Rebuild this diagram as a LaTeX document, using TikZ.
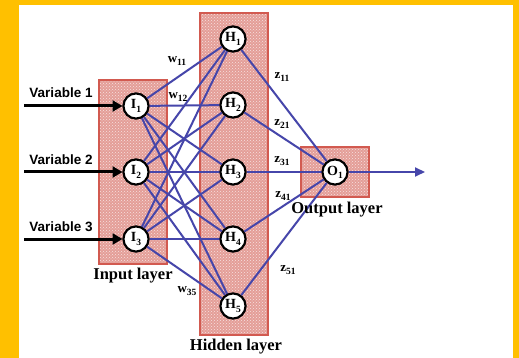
\documentclass[tikz,border=0pt]{standalone}
\usepackage{fontspec}
\setmainfont{Liberation Serif}
\setsansfont{Liberation Sans}
\usetikzlibrary{arrows.meta,patterns}
\definecolor{frame}{RGB}{255,192,0}
\definecolor{boxfill}{RGB}{228,158,152}
\definecolor{boxline}{RGB}{210,90,80}
\definecolor{netblue}{RGB}{70,70,170}
\newcommand\sbs[1]{\raisebox{-0.5ex}{\fontsize{9.5}{9.5}\selectfont #1}}
\tikzset{
  layerbox/.style={draw=boxline,line width=1.5pt,fill=boxfill},
  layerdots/.style={pattern=crosshatch dots,pattern color=white!70!boxfill},
  neuron/.style={circle,draw=black,line width=2pt,fill=white,minimum size=25pt,inner sep=0pt,font=\fontsize{14}{14}\selectfont\bfseries},
  link/.style={draw=netblue,line width=2pt},
  varlabel/.style={font=\sffamily\bfseries\fontsize{13.5}{14}\selectfont},
  laylabel/.style={font=\bfseries\fontsize{16.5}{17}\selectfont},
  wlabel/.style={font=\bfseries\fontsize{13}{13}\selectfont,inner sep=0pt},
  inarrow/.style={draw=black,line width=3pt,-{Triangle[length=10pt,width=11pt]}},
}
\begin{document}
\begin{tikzpicture}[x=1pt,y=-1pt]
\fill[frame] (0,0) rectangle (519,358);
\fill[white] (19,5) rectangle (513,358);
\useasboundingbox (0,0) rectangle (519,358);
% layer boxes
\foreach \a/\b/\c/\d in {99/80/167/264, 200/13/268/335, 301/147/369/197}{
  \path[layerbox] (\a,\b) rectangle (\c,\d);
  \path[layerdots] (\a,\b) rectangle (\c,\d);
  \draw[boxline,line width=1.5pt] (\a,\b) rectangle (\c,\d);
}
% nodes
\node[neuron] (I1) at (136,106) {I\sbs{1}};
\node[neuron] (I2) at (136,172) {I\sbs{2}};
\node[neuron] (I3) at (136,239) {I\sbs{3}};
\node[neuron] (H1) at (233,39) {H\sbs{1}};
\node[neuron] (H2) at (233,105) {H\sbs{2}};
\node[neuron] (H3) at (233,172) {H\sbs{3}};
\node[neuron] (H4) at (233,239) {H\sbs{4}};
\node[neuron] (H5) at (233,306) {H\sbs{5}};
\node[neuron] (O1) at (335,172) {O\sbs{1}};
% links
\foreach \i in {1,2,3}{
  \foreach \h in {1,...,5}{
    \draw[link] (I\i) -- (H\h);
  }
}
\foreach \h in {1,...,5}{
  \draw[link] (H\h) -- (O1);
}
% redraw nodes on top
\node[neuron] at (136,106) {I\sbs{1}};
\node[neuron] at (136,172) {I\sbs{2}};
\node[neuron] at (136,239) {I\sbs{3}};
\node[neuron] at (233,39) {H\sbs{1}};
\node[neuron] at (233,105) {H\sbs{2}};
\node[neuron] at (233,172) {H\sbs{3}};
\node[neuron] at (233,239) {H\sbs{4}};
\node[neuron] at (233,306) {H\sbs{5}};
\node[neuron] at (335,172) {O\sbs{1}};
% output arrow
\coordinate (out) at (425,172);
\draw[link,-{Triangle[length=10pt,width=9pt]}] (O1) -- (out);
% input arrows
\coordinate (v1) at (24,106);
\coordinate (v2) at (24,172);
\coordinate (v3) at (24,239);
\draw[inarrow] (v1) -- (I1.west);
\draw[inarrow] (v2) -- (I2.west);
\draw[inarrow] (v3) -- (I3.west);
\node[varlabel] (L1) at (61,93) {Variable 1};
\node[varlabel] (L2) at (61,160) {Variable 2};
\node[varlabel] (L3) at (61,227) {Variable 3};
% layer labels
\node[laylabel] (LI) at (133,276) {Input layer};
\node[laylabel] (LH) at (236,347) {Hidden layer};
\node[laylabel] (LO) at (337,210) {Output layer};
% weight labels
\node[wlabel] (w11) at (177,61) {w\sbs{11}};
\node[wlabel] (w12) at (178,97) {w\sbs{12}};
\node[wlabel] (w35) at (187,291) {w\sbs{35}};
\node[wlabel] (z11) at (282,77) {z\sbs{11}};
\node[wlabel] (z21) at (282,124) {z\sbs{21}};
\node[wlabel] (z31) at (282,161) {z\sbs{31}};
\node[wlabel] (z41) at (283,196) {z\sbs{41}};
\node[wlabel] (z51) at (288,270) {z\sbs{51}};
\end{tikzpicture}
\end{document}
